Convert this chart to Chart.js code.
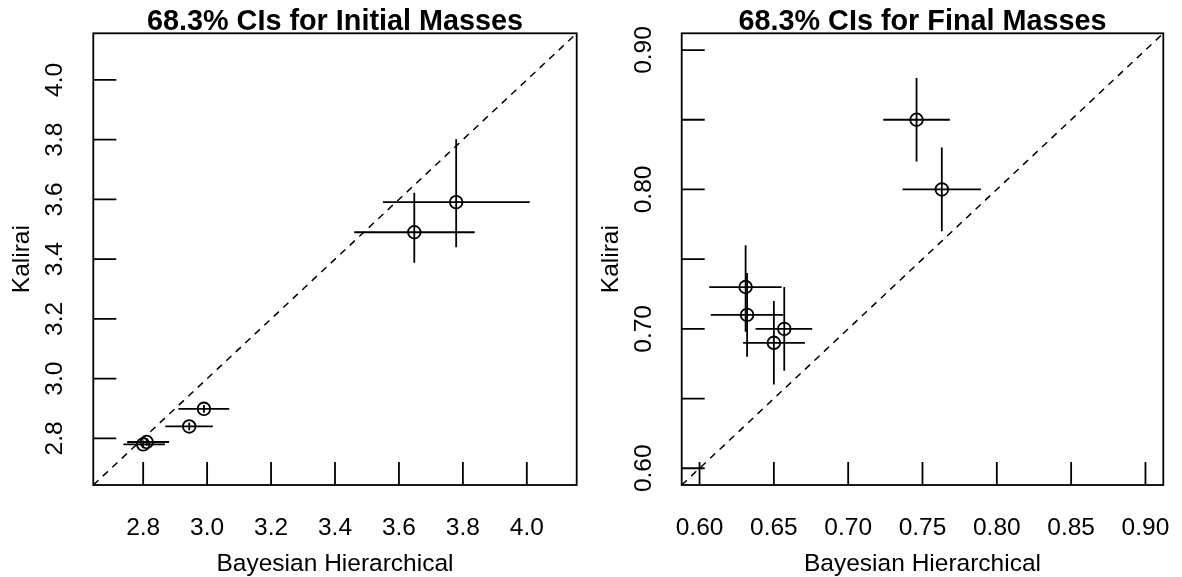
<!DOCTYPE html>
<html><head><meta charset="utf-8">
<script src="https://cdn.jsdelivr.net/npm/chart.js@4.4.1/dist/chart.umd.min.js"></script>
<style>
html,body{margin:0;padding:0;background:#fff;}
#wrap{position:relative;width:1182px;height:577px;background:#fff;}
canvas{position:absolute;left:0;top:0;}
</style></head><body>
<div id="wrap"><canvas id="c1" width="1182" height="577"></canvas><canvas id="c2" width="1182" height="577"></canvas></div>
<script>
// ---- Initial masses panel ----
const initialTitle = "68.3% CIs for Initial Masses";
const initialLimits = [2.644, 4.156];
const initialTicks = [2.8, 3.0, 3.2, 3.4, 3.6, 3.8, 4.0];
const initialXTickLabels = ["2.8", "3.0", "3.2", "3.4", "3.6", "3.8", "4.0"];
const initialYTickLabels = ["2.8", "3.0", "3.2", "3.4", "3.6", "3.8", "4.0"];
const initialBayes   = [2.800, 2.811, 2.944, 2.990, 3.648, 3.779];
const initialBayesLo = [2.738, 2.750, 2.869, 2.910, 3.460, 3.550];
const initialBayesHi = [2.868, 2.881, 3.018, 3.069, 3.837, 4.009];
const initialKalirai   = [2.780, 2.788, 2.840, 2.899, 3.490, 3.591];
const initialKaliraiLo = [2.767, 2.775, 2.827, 2.886, 3.388, 3.440];
const initialKaliraiHi = [2.793, 2.801, 2.853, 2.912, 3.622, 3.801];

// ---- Final masses panel ----
const finalTitle = "68.3% CIs for Final Masses";
const finalLimits = [0.588, 0.912];
const finalTicks = [0.60, 0.65, 0.70, 0.75, 0.80, 0.85, 0.90];
const finalXTickLabels = ["0.60", "0.65", "0.70", "0.75", "0.80", "0.85", "0.90"];
const finalYTickLabels = ["0.60", "", "0.70", "", "0.80", "", "0.90"];
const finalBayes   = [0.631, 0.632, 0.650, 0.657, 0.746, 0.763];
const finalBayesLo = [0.6065, 0.6076, 0.6293, 0.6377, 0.7236, 0.7366];
const finalBayesHi = [0.6552, 0.6563, 0.6709, 0.6758, 0.7684, 0.7893];
const finalKalirai   = [0.730, 0.710, 0.690, 0.700, 0.850, 0.800];
const finalKaliraiLo = [0.698, 0.680, 0.660, 0.670, 0.820, 0.770];
const finalKaliraiHi = [0.760, 0.740, 0.720, 0.730, 0.880, 0.830];

const xAxisTitle = "Bayesian Hierarchical";
const yAxisTitle = "Kalirai";

const FONT = "'Liberation Sans', Arial, Helvetica, sans-serif";
const LW = 1.8;

const framePlugin = {
  id: 'rframe',
  afterDraw(chart) {
    const o = chart.options.plugins.rframe;
    const ctx = chart.ctx, ca = chart.chartArea;
    const xs = chart.scales.x, ys = chart.scales.y;
    ctx.save();
    ctx.strokeStyle = '#000';
    ctx.lineWidth = LW;
    ctx.strokeRect(ca.left, ca.top, ca.right - ca.left, ca.bottom - ca.top);
    const tl = 23;
    ctx.beginPath();
    o.ticks.forEach(t => {
      const px = xs.getPixelForValue(t);
      ctx.moveTo(px, ca.bottom); ctx.lineTo(px, ca.bottom - tl);
      const py = ys.getPixelForValue(t);
      ctx.moveTo(ca.left, py); ctx.lineTo(ca.left + tl, py);
    });
    ctx.stroke();
    ctx.fillStyle = '#000';
    // x tick labels
    ctx.font = "24.5px " + FONT;
    ctx.textAlign = 'center';
    ctx.textBaseline = 'alphabetic';
    o.ticks.forEach((t, i) => {
      ctx.fillText(o.xLabels[i], xs.getPixelForValue(t), 534.5);
    });
    // x axis title
    ctx.fillText(o.xTitle, (ca.left + ca.right) / 2, 570.5);
    // y tick labels (rotated)
    o.ticks.forEach((t, i) => {
      if (!o.yLabels[i]) return;
      ctx.save();
      ctx.translate(ca.left - 31, ys.getPixelForValue(t));
      ctx.rotate(-Math.PI / 2);
      ctx.fillText(o.yLabels[i], 0, 0);
      ctx.restore();
    });
    // y axis title
    ctx.save();
    ctx.translate(ca.left - 64, (ca.top + ca.bottom) / 2);
    ctx.rotate(-Math.PI / 2);
    ctx.fillText(o.yTitle, 0, 0);
    ctx.restore();
    // main title
    ctx.font = "bold 28.8px " + FONT;
    ctx.fillText(o.title, (ca.left + ca.right) / 2, 30);
    ctx.restore();
  }
};

function buildDatasets(bx, bxLo, bxHi, ky, kyLo, kyHi, lim) {
  const ds = [];
  ds.push({
    data: [{x: lim[0], y: lim[0]}, {x: lim[1], y: lim[1]}],
    showLine: true, borderColor: '#000', borderWidth: 1.5, borderDash: [7, 6],
    pointRadius: 0, fill: false
  });
  for (let i = 0; i < bx.length; i++) {
    ds.push({
      data: [{x: bxLo[i], y: ky[i]}, {x: bxHi[i], y: ky[i]}],
      showLine: true, borderColor: '#000', borderWidth: LW, pointRadius: 0, fill: false
    });
    ds.push({
      data: [{x: bx[i], y: kyLo[i]}, {x: bx[i], y: kyHi[i]}],
      showLine: true, borderColor: '#000', borderWidth: LW, pointRadius: 0, fill: false
    });
  }
  ds.push({
    data: bx.map((v, i) => ({x: v, y: ky[i]})),
    showLine: false, pointStyle: 'circle', pointRadius: 6.3,
    pointBorderColor: '#000', pointBackgroundColor: 'rgba(0,0,0,0)', pointBorderWidth: LW
  });
  return ds;
}

function makeChart(id, pad, lim, ticks, xLabels, yLabels, title, datasets) {
  return new Chart(document.getElementById(id), {
    type: 'scatter',
    data: { datasets },
    options: {
      responsive: false, animation: false, devicePixelRatio: 1,
      layout: { padding: pad },
      scales: {
        x: { type: 'linear', min: lim[0], max: lim[1], display: false },
        y: { type: 'linear', min: lim[0], max: lim[1], display: false }
      },
      plugins: {
        legend: { display: false }, tooltip: { enabled: false },
        rframe: { ticks, xLabels, yLabels, title, xTitle: xAxisTitle, yTitle: yAxisTitle }
      }
    },
    plugins: [framePlugin]
  });
}

makeChart('c1', {left: 93.3, right: 1182 - 576.7, top: 33.3, bottom: 577 - 485},
  initialLimits, initialTicks, initialXTickLabels, initialYTickLabels, initialTitle,
  buildDatasets(initialBayes, initialBayesLo, initialBayesHi, initialKalirai, initialKaliraiLo, initialKaliraiHi, initialLimits));

makeChart('c2', {left: 681.7, right: 1182 - 1163.3, top: 33.3, bottom: 577 - 485},
  finalLimits, finalTicks, finalXTickLabels, finalYTickLabels, finalTitle,
  buildDatasets(finalBayes, finalBayesLo, finalBayesHi, finalKalirai, finalKaliraiLo, finalKaliraiHi, finalLimits));
</script>
</body></html>
